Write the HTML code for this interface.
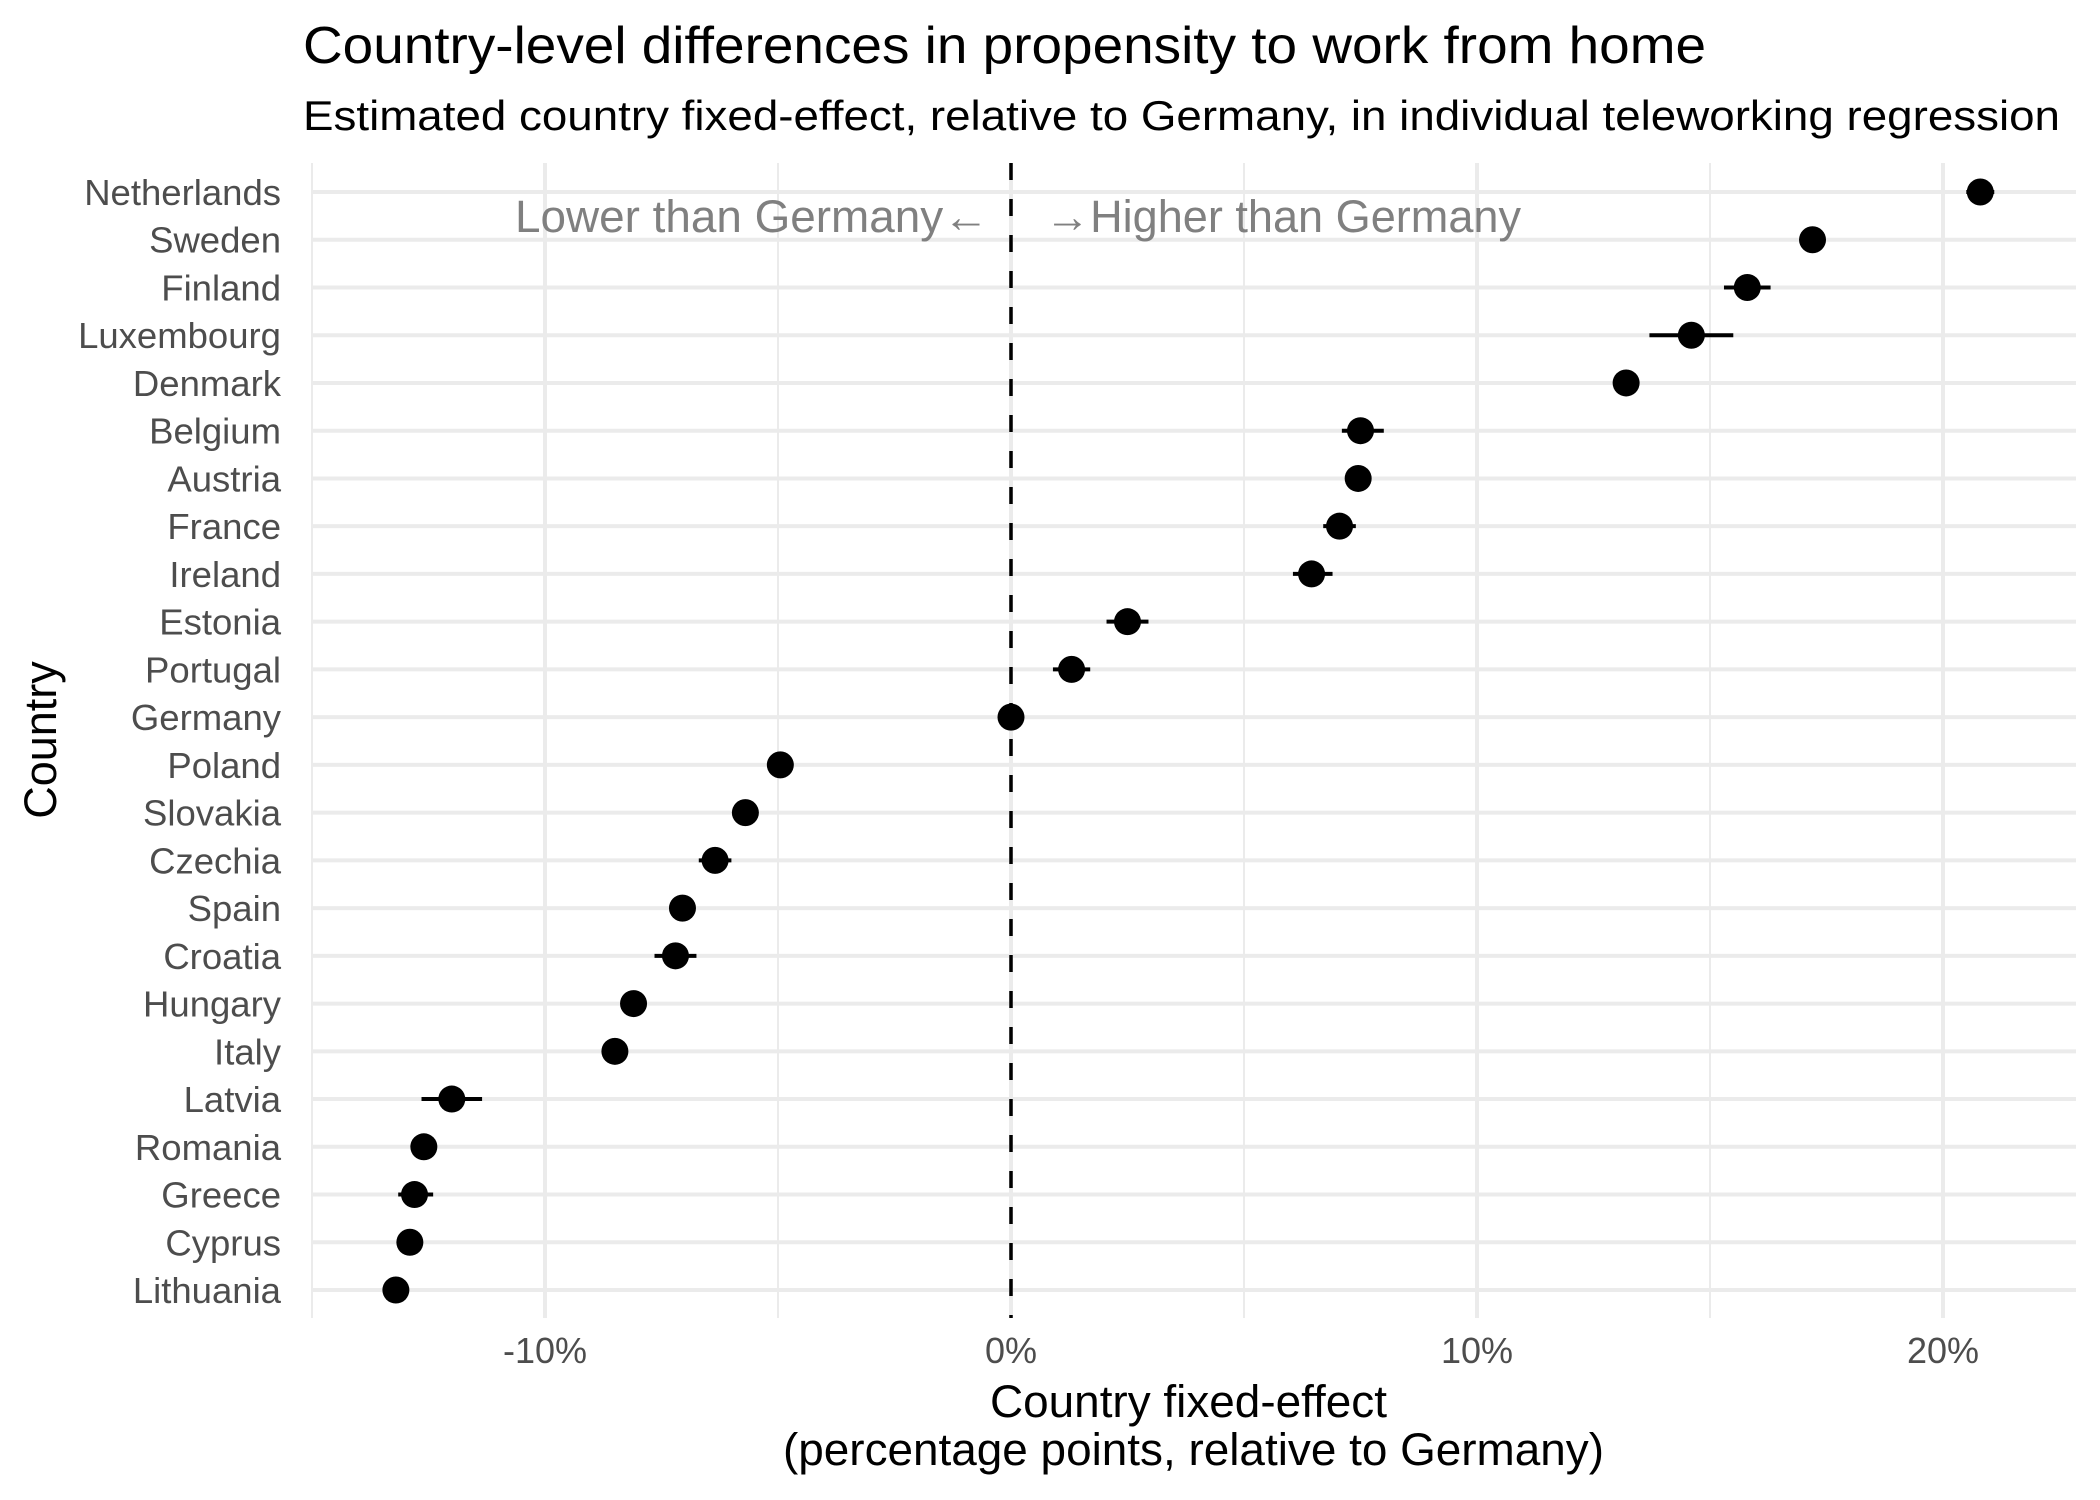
<!DOCTYPE html>
<html><head><meta charset="utf-8"><style>
html,body{margin:0;padding:0;background:#fff}
svg{display:block;font-family:"Liberation Sans",Arial,sans-serif}
</style></head><body>
<svg id="chart" width="2100" height="1500" viewBox="0 0 2100 1500" xmlns="http://www.w3.org/2000/svg">
<rect width="2100" height="1500" fill="#fff"/>
<text x="303" y="63" font-size="52" fill="#000" textLength="1403" lengthAdjust="spacingAndGlyphs">Country-level differences in propensity to work from home</text>
<text x="303" y="130" font-size="42" fill="#000" textLength="1757" lengthAdjust="spacingAndGlyphs">Estimated country fixed-effect, relative to Germany, in individual teleworking regression</text>
<g id="grid"></g>
<g id="marks"></g>
<text x="515" y="232" font-size="45" fill="#808080" textLength="474" lengthAdjust="spacingAndGlyphs">Lower than Germany←</text>
<text x="1045" y="232" font-size="45" fill="#808080" textLength="476" lengthAdjust="spacingAndGlyphs">→Higher than Germany</text>
<text x="990" y="1417" font-size="45" fill="#000" textLength="397" lengthAdjust="spacingAndGlyphs">Country fixed-effect</text>
<text x="783" y="1465" font-size="45" fill="#000" textLength="821" lengthAdjust="spacingAndGlyphs">(percentage points, relative to Germany)</text>
<text x="0" y="0" font-size="45" fill="#000" text-anchor="middle" transform="translate(56,740) rotate(-90)">Country</text>
</svg>
<script>
const countries=["Netherlands","Sweden","Finland","Luxembourg","Denmark","Belgium","Austria","France","Ireland","Estonia","Portugal","Germany","Poland","Slovakia","Czechia","Spain","Croatia","Hungary","Italy","Latvia","Romania","Greece","Cyprus","Lithuania"];
const estimates=[20.8,17.2,15.8,14.6,13.2,7.5,7.45,7.05,6.45,2.5,1.3,0,-4.95,-5.7,-6.35,-7.05,-7.2,-8.1,-8.5,-12.0,-12.6,-12.8,-12.9,-13.2];
const ciLow=[20.5,17.0,15.3,13.7,13.0,7.1,7.25,6.7,6.05,2.05,0.9,0,-5.15,-5.9,-6.7,-7.25,-7.65,-8.3,-8.7,-12.65,-12.8,-13.15,-13.1,-13.4];
const ciHigh=[21.1,17.4,16.3,15.5,13.4,8.0,7.65,7.4,6.9,2.95,1.7,0,-4.75,-5.5,-6.0,-6.85,-6.75,-7.9,-8.3,-11.35,-12.4,-12.4,-12.7,-13.0];
const majorTicks=[-10,0,10,20];
const minorTicks=[-15,-5,5,15];
const tickLabels=["-10%","0%","10%","20%"];

const NS="http://www.w3.org/2000/svg";
const L=312,R=2076,T=163,B=1318;
function xs(v){return 1011+v*46.6;}
function ys(i){return 192+i*47.74;}
function mk(tag,attrs,parent){const e=document.createElementNS(NS,tag);for(const k in attrs)e.setAttribute(k,attrs[k]);parent.appendChild(e);return e;}
const grid=document.getElementById('grid'),marks=document.getElementById('marks'),svg=document.getElementById('chart');
minorTicks.forEach(v=>{
  const l=mk('line',{x1:xs(v),x2:xs(v),y1:T,y2:B,stroke:'#ebebeb','stroke-width':2},grid);
  
  
});
majorTicks.forEach((v,i)=>{
  const l=mk('line',{x1:xs(v),x2:xs(v),y1:T,y2:B,stroke:'#ebebeb','stroke-width':4},grid);
  
  
  const t=mk('text',{x:xs(v),y:1363,'font-size':36,fill:'#4d4d4d','text-anchor':'middle'},svg);
  t.textContent=tickLabels[i];
  
  
});
countries.forEach((c,i)=>{
  const l=mk('line',{x1:L,x2:R,y1:ys(i),y2:ys(i),stroke:'#ebebeb','stroke-width':4},grid);
  
  
  const t=mk('text',{x:281,y:ys(i)+13,'font-size':36.5,fill:'#4d4d4d','text-anchor':'end'},svg);
  t.textContent=c;
  
  
});
const vl=mk('line',{x1:xs(0),x2:xs(0),y1:T,y2:B,stroke:'#000','stroke-width':3.5,'stroke-dasharray':'17 19'},grid);


countries.forEach((c,i)=>{
  const e=mk('line',{x1:xs(ciLow[i]),x2:xs(ciHigh[i]),y1:ys(i),y2:ys(i),stroke:'#000','stroke-width':4},marks);
  
  
  const p=mk('circle',{cx:xs(estimates[i]),cy:ys(i),r:13.5,fill:'#000'},marks);
  
  
});
</script>
</body></html>
